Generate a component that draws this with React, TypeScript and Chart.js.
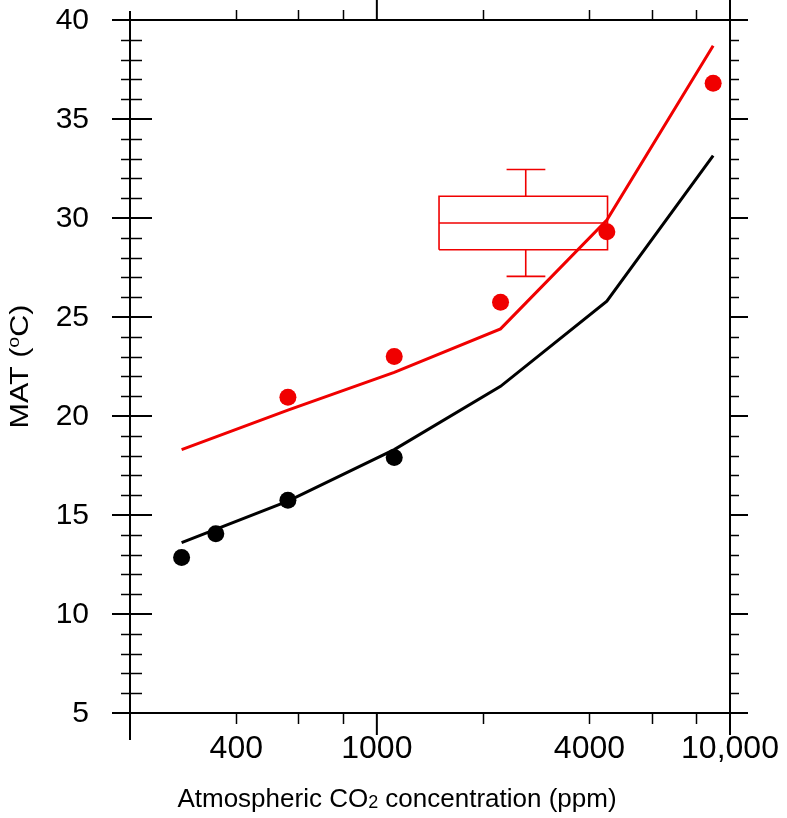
import React, { useEffect, useRef } from 'react';
import { Chart, registerables } from 'chart.js';

Chart.register(...registerables);

// ---------------- data ----------------
const modelCO2 = [280, 560, 1120, 2240, 4480, 8960];
const modelRedMAT = [18.3, 20.3, 22.2, 24.4, 29.9, 38.7];
const modelBlackMAT = [13.6, 15.7, 18.3, 21.5, 25.8, 33.15];

const redPointCO2 = [560, 1120, 2240, 4480, 8960];
const redPointMAT = [20.95, 23.0, 25.75, 29.3, 36.8];

const blackPointCO2 = [280, 350, 560, 1120];
const blackPointMAT = [12.85, 14.05, 15.75, 17.9];

// proxy box: [min, q1, median, q3, max]
const proxyBoxMAT = [27.05, 28.4, 29.75, 31.1, 32.45];
const proxyBoxCO2 = [1500, 4500];
const proxyWhiskerCO2 = [2640];
const proxyCapCO2 = [2330, 3000];

const xRange = [200, 10000];
const yRange = [5, 40];
const xMajorTicks = [1000, 10000];
const xMinorTicks = [400, 600, 800, 2000, 4000, 6000, 8000];
const xLabelValues = [400, 1000, 4000, 10000];
const xLabels = ['400', '1000', '4000', '10,000'];
const yMajorTicks = [5, 10, 15, 20, 25, 30, 35, 40];
const yLabels = ['5', '10', '15', '20', '25', '30', '35', '40'];
const yMinorTicks = [6, 7, 8, 9, 11, 12, 13, 14, 16, 17, 18, 19, 21, 22, 23, 24, 26, 27, 28, 29, 31, 32, 33, 34, 36, 37, 38, 39];

const xTitleParts = ['Atmospheric CO', '2', ' concentration (ppm)'];
const yTitleParts = ['MAT (', 'o', 'C)'];

const RED = '#f00000';
const BLACK = '#000000';
const FONT = '"Liberation Sans", Arial, Helvetica, sans-serif';

const pts = (xs: number[], ys: number[]) => xs.map((x, i) => ({ x, y: ys[i] }));

const axesPlugin = {
  id: 'nclAxes',
  afterDraw(chart: any) {
    const ctx = chart.ctx as CanvasRenderingContext2D;
    const { left, right, top, bottom } = chart.chartArea;
    const xs = chart.scales.x;
    const ys = chart.scales.y;
    ctx.save();
    ctx.strokeStyle = '#000';
    ctx.lineCap = 'butt';
    const seg = (x1: number, y1: number, x2: number, y2: number, w: number) => {
      ctx.lineWidth = w;
      ctx.beginPath();
      ctx.moveTo(x1, y1);
      ctx.lineTo(x2, y2);
      ctx.stroke();
    };
    // frame
    seg(left, top, left, bottom, 2);
    seg(right, top, right, bottom, 2);
    seg(left, top, right, top, 2);
    seg(left, bottom, right, bottom, 2);
    // x axis ticks (outward)
    const x0 = xs.getPixelForValue(xRange[0]);
    seg(x0, bottom, x0, bottom + 27, 2);
    seg(x0, top, x0, top - 9, 2);
    xMajorTicks.forEach((v) => {
      const x = xs.getPixelForValue(v);
      seg(x, bottom, x, bottom + 22, 2);
      seg(x, top, x, top - 20, 2);
    });
    xMinorTicks.forEach((v) => {
      const x = Math.round(xs.getPixelForValue(v)) + 0.5;
      seg(x, bottom, x, bottom + 11, 1.5);
      seg(x, top, x, top - 10, 1.5);
    });
    // y ticks: left both sides, right outward
    yMajorTicks.forEach((v) => {
      const y = ys.getPixelForValue(v);
      seg(left - 18, y, left + 22, y, 2);
      seg(right, y, right + 18, y, 2);
    });
    yMinorTicks.forEach((v) => {
      const y = Math.round(ys.getPixelForValue(v)) + 0.5;
      seg(left - 9, y, left + 12, y, 1.5);
      seg(right, y, right + 9, y, 1.5);
    });

    // tick labels
    ctx.fillStyle = '#000';
    ctx.font = `30px ${FONT}`;
    ctx.textAlign = 'right';
    ctx.textBaseline = 'middle';
    yMajorTicks.forEach((v, i) => {
      ctx.fillText(yLabels[i], left - 41, ys.getPixelForValue(v) + 1);
    });
    ctx.font = `32px ${FONT}`;
    ctx.textAlign = 'center';
    ctx.textBaseline = 'alphabetic';
    xLabelValues.forEach((v, i) => {
      ctx.fillText(xLabels[i], xs.getPixelForValue(v), bottom + 45);
    });

    // x title with subscript
    ctx.textAlign = 'left';
    const mainX = `26px ${FONT}`;
    const subX = `18px ${FONT}`;
    ctx.font = mainX;
    const w1 = ctx.measureText(xTitleParts[0]).width;
    const w3 = ctx.measureText(xTitleParts[2]).width;
    ctx.font = subX;
    const w2 = ctx.measureText(xTitleParts[1]).width;
    const total = w1 + w2 + w3;
    let cx = 397 - total / 2;
    const by = 807;
    ctx.font = mainX;
    ctx.fillText(xTitleParts[0], cx, by);
    cx += w1;
    ctx.font = subX;
    ctx.fillText(xTitleParts[1], cx, by + 1);
    cx += w2;
    ctx.font = mainX;
    ctx.fillText(xTitleParts[2], cx, by);

    // y title rotated with superscript (slightly elongated like the original)
    ctx.save();
    ctx.translate(28, (top + bottom) / 2);
    ctx.rotate(-Math.PI / 2);
    ctx.scale(1.22, 1);
    const mainY = `25px ${FONT}`;
    const supY = `16px ${FONT}`;
    ctx.font = mainY;
    const a1 = ctx.measureText(yTitleParts[0]).width;
    const a3 = ctx.measureText(yTitleParts[2]).width;
    ctx.font = supY;
    const a2 = ctx.measureText(yTitleParts[1]).width;
    let tx = -(a1 + a2 + a3) / 2;
    ctx.font = mainY;
    ctx.fillText(yTitleParts[0], tx, 0);
    tx += a1;
    ctx.font = supY;
    ctx.fillText(yTitleParts[1], tx, -9);
    tx += a2;
    ctx.font = mainY;
    ctx.fillText(yTitleParts[2], tx, 0);
    ctx.restore();

    ctx.restore();
  },
};

export default function App() {
  const canvasRef = useRef<HTMLCanvasElement | null>(null);

  useEffect(() => {
    if (!canvasRef.current) return;
    const [mn, q1, med, q3, mx] = proxyBoxMAT;
    const [bx0, bx1] = proxyBoxCO2;
    const wx = proxyWhiskerCO2[0];
    const [c0, c1] = proxyCapCO2;
    const lineDs = (data: any[], color: string, width: number, order: number) => ({
      data,
      showLine: true,
      borderColor: color,
      borderWidth: width,
      pointRadius: 0,
      pointHoverRadius: 0,
      fill: false,
      tension: 0,
      borderJoinStyle: 'miter' as const,
      order,
    });
    const chart = new Chart(canvasRef.current, {
      type: 'scatter',
      data: {
        datasets: [
          {
            data: pts(redPointCO2, redPointMAT),
            pointRadius: 8.5,
            pointBackgroundColor: RED,
            pointBorderWidth: 0,
            showLine: false,
            order: 0,
          } as any,
          {
            data: pts(blackPointCO2, blackPointMAT),
            pointRadius: 8.5,
            pointBackgroundColor: BLACK,
            pointBorderWidth: 0,
            showLine: false,
            order: 0,
          } as any,
          lineDs(pts(modelCO2, modelRedMAT), RED, 3, 1),
          lineDs(pts(modelCO2, modelBlackMAT), BLACK, 3, 1),
          lineDs(
            [
              { x: bx0, y: q1 },
              { x: bx1, y: q1 },
              { x: bx1, y: q3 },
              { x: bx0, y: q3 },
              { x: bx0, y: q1 },
            ],
            RED,
            1.6,
            2
          ),
          lineDs([{ x: bx0, y: med }, { x: bx1, y: med }], RED, 1.6, 2),
          lineDs([{ x: wx, y: q3 }, { x: wx, y: mx }], RED, 1.6, 2),
          lineDs([{ x: c0, y: mx }, { x: c1, y: mx }], RED, 1.6, 2),
          lineDs([{ x: wx, y: q1 }, { x: wx, y: mn }], RED, 1.6, 2),
          lineDs([{ x: c0, y: mn }, { x: c1, y: mn }], RED, 1.6, 2),
        ],
      },
      options: {
        animation: false,
        responsive: false,
        devicePixelRatio: 1,
        layout: { padding: { left: 130, right: 57, top: 20, bottom: 105 } },
        plugins: { legend: { display: false }, tooltip: { enabled: false } },
        scales: {
          x: { type: 'logarithmic', min: xRange[0], max: xRange[1], display: false },
          y: { type: 'linear', min: yRange[0], max: yRange[1], display: false },
        },
      },
      plugins: [axesPlugin],
    });
    return () => chart.destroy();
  }, []);

  return (
    <div style={{ position: 'fixed', left: 0, top: 0, width: 787, height: 818, background: '#fff' }}>
      <canvas ref={canvasRef} width={787} height={818} style={{ display: 'block' }} />
    </div>
  );
}
